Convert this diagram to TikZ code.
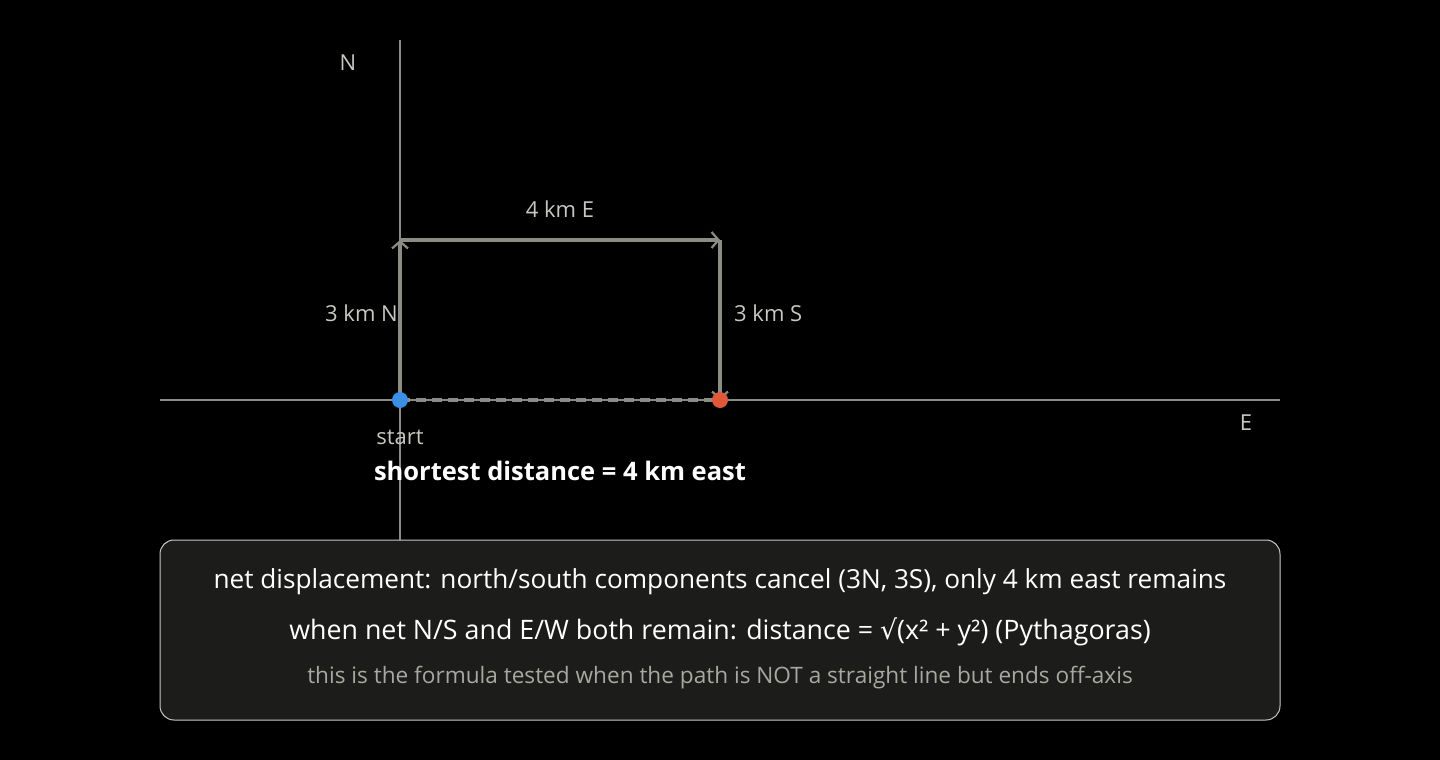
\documentclass[tikz,border=0pt]{standalone}
\usepackage{fontspec}
\setmainfont{Open Sans}
\newfontfamily\symf{DejaVu Sans}
\usetikzlibrary{arrows.meta}
\definecolor{bgc}{HTML}{000000}
\definecolor{axisc}{HTML}{8A8A86}
\definecolor{pathc}{HTML}{8C8C86}
\definecolor{labc}{HTML}{C8C8C0}
\definecolor{startc}{HTML}{3A8EE6}
\definecolor{endc}{HTML}{E0583A}
\definecolor{boxc}{HTML}{1C1C1A}
\definecolor{boxline}{HTML}{C8C8C8}
\definecolor{subc}{HTML}{A8A8A0}
\tikzset{
  axisline/.style={draw=axisc, line width=1.5pt},
  leg/.style={draw=pathc, line width=3.5pt, -{Straight Barb[length=7pt,width=16pt,line width=2.2pt]}},
  lab/.style={text=labc, font=\fontsize{22}{26}\selectfont, inner sep=0pt},
  dotst/.style={circle, minimum size=16pt, inner sep=0pt},
}
\begin{document}
\begin{tikzpicture}[x=1pt,y=-1pt]
\fill[bgc] (0,0) rectangle (1440,760);
\useasboundingbox (0,0) rectangle (1440,760);
% axes
\coordinate (ntop) at (400,40);
\coordinate (nbot) at (400,540);
\coordinate (ewl) at (160,400);
\coordinate (ewr) at (1280,400);
\draw[axisline] (ntop) -- (nbot);
\draw[axisline] (ewl) -- (ewr);
\node[lab] (nlab) at (348,63) {N};
\node[lab] (elab) at (1246,423) {E};
% path points
\coordinate (p0) at (400,400);
\coordinate (p1) at (400,240);
\coordinate (p2) at (720,240);
\coordinate (p3) at (720,400);
\draw[draw=pathc, line width=3.5pt, dash pattern=on 10pt off 6pt] (p0) -- (p3);
\draw[leg] (p0) -- (p1);
\draw[leg] (p1) -- (p2);
\draw[leg] (p2) -- (p3);
\node[dotst, fill=startc] (sdot) at (p0) {};
\node[dotst, fill=endc] (edot) at (p3) {};
\node[lab] (l4e) at (560,209) {4 km E};
\node[lab, anchor=east] (l3n) at (398,313) {3 km N};
\node[lab, anchor=west] (l3s) at (734,313) {3 km S};
\node[lab] (lstart) at (400,437) {start};
\node[text=white, font=\bfseries\fontsize{25.5}{30}\selectfont, inner sep=0pt] (short) at (560,471) {shortest distance = 4 km east};
% box
\node[draw=boxline, line width=1pt, fill=boxc, rounded corners=14pt, minimum width=1120pt, minimum height=180pt, inner sep=0pt] (box) at (720,630) {};
\node[text=white, font=\fontsize{26.2}{30}\selectfont, inner sep=0pt] (t1) at (720,582) {net displacement: north/south components cancel (3N, 3S), only 4 km east remains};
\node[text=white, font=\fontsize{26.8}{30}\selectfont, inner sep=0pt] (t2) at (720,632) {when net N/S and E/W both remain: distance = {\symf √}(x² + y²) (Pythagoras)};
\node[text=subc, font=\fontsize{22.6}{26}\selectfont, inner sep=0pt] (t3) at (720,678) {this is the formula tested when the path is NOT a straight line but ends off-axis};
\end{tikzpicture}
\end{document}
